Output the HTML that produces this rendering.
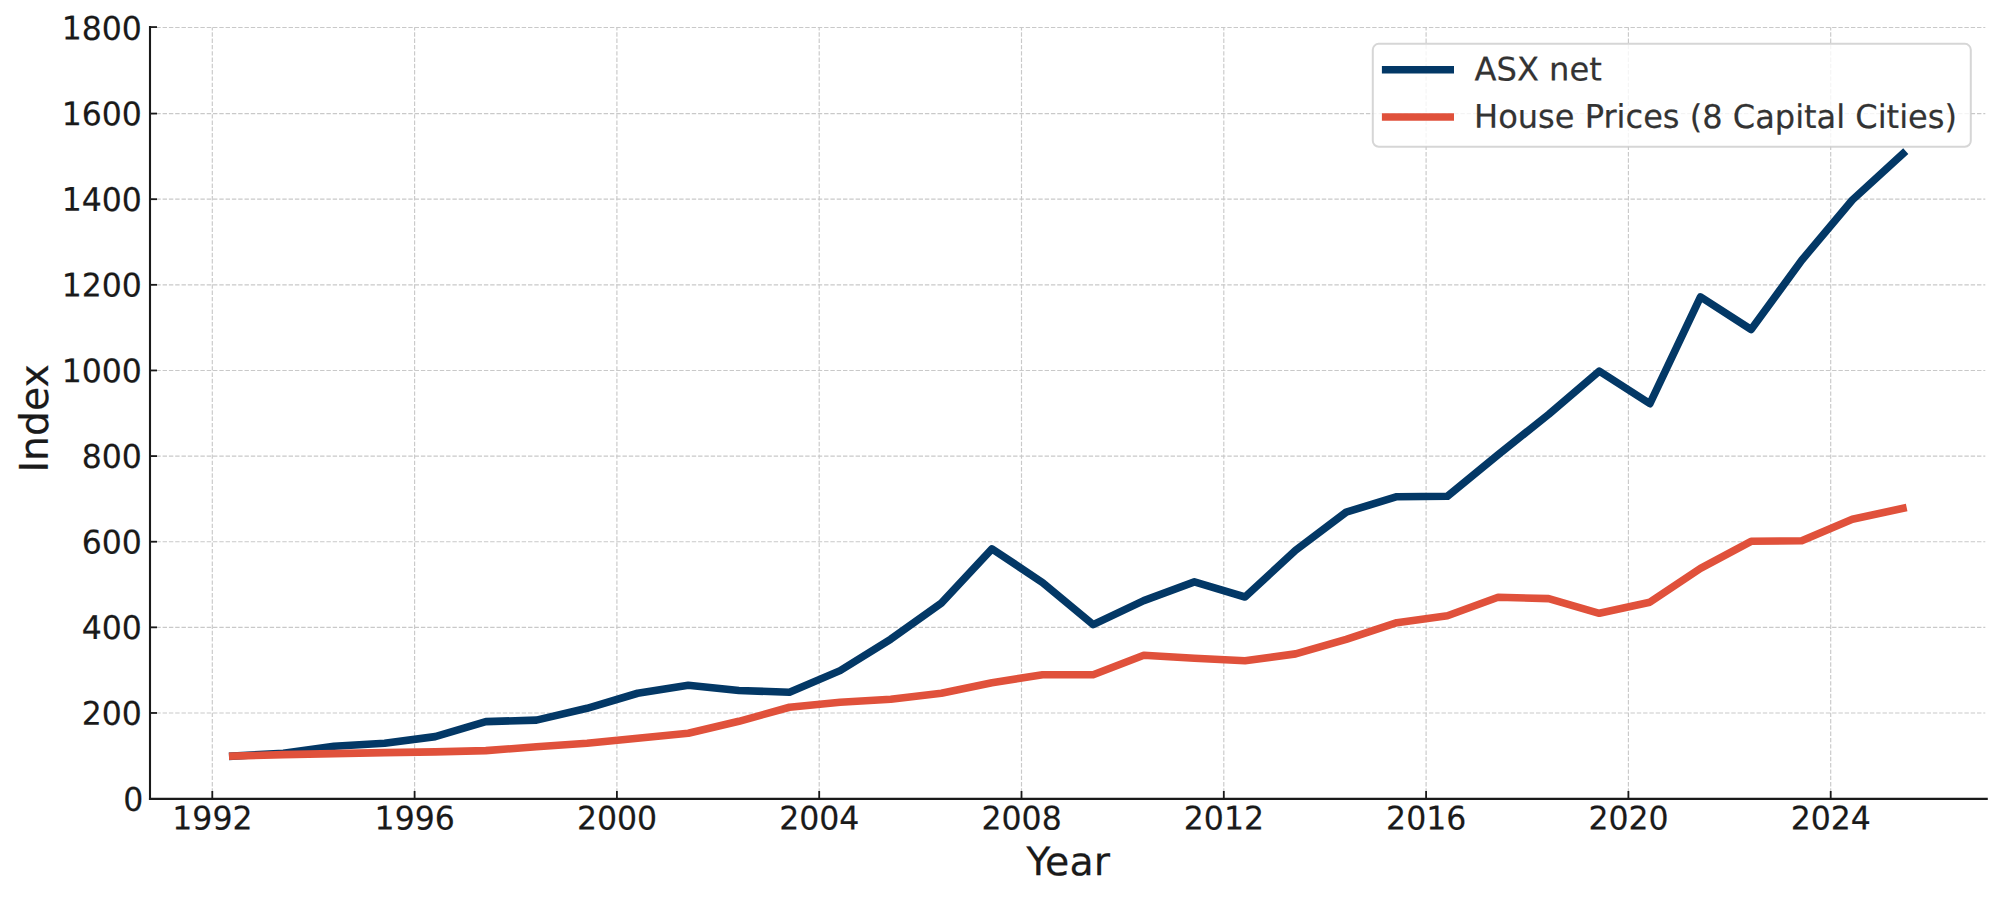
<!DOCTYPE html>
<html lang="en"><head><meta charset="utf-8"><title>ASX net vs House Prices</title>
<style>html,body{margin:0;padding:0;background:#fff}body{width:2000px;height:898px;overflow:hidden}svg{display:block}text{font-family:"DejaVu Sans","Liberation Sans",sans-serif}</style></head><body>
<svg width="2000" height="898" viewBox="0 0 2000 898">
<rect width="2000" height="898" fill="#ffffff"/>
<g stroke="#c9c9c9" stroke-width="1.15" stroke-dasharray="4.4 1.9" fill="none">
<line x1="212.30" y1="799.00" x2="212.30" y2="27.20"/>
<line x1="414.60" y1="799.00" x2="414.60" y2="27.20"/>
<line x1="616.90" y1="799.00" x2="616.90" y2="27.20"/>
<line x1="819.20" y1="799.00" x2="819.20" y2="27.20"/>
<line x1="1021.50" y1="799.00" x2="1021.50" y2="27.20"/>
<line x1="1223.80" y1="799.00" x2="1223.80" y2="27.20"/>
<line x1="1426.10" y1="799.00" x2="1426.10" y2="27.20"/>
<line x1="1628.40" y1="799.00" x2="1628.40" y2="27.20"/>
<line x1="1830.70" y1="799.00" x2="1830.70" y2="27.20"/>
<line x1="150.00" y1="712.97" x2="1985.30" y2="712.97"/>
<line x1="150.00" y1="627.34" x2="1985.30" y2="627.34"/>
<line x1="150.00" y1="541.71" x2="1985.30" y2="541.71"/>
<line x1="150.00" y1="456.08" x2="1985.30" y2="456.08"/>
<line x1="150.00" y1="370.45" x2="1985.30" y2="370.45"/>
<line x1="150.00" y1="284.82" x2="1985.30" y2="284.82"/>
<line x1="150.00" y1="199.19" x2="1985.30" y2="199.19"/>
<line x1="150.00" y1="113.56" x2="1985.30" y2="113.56"/>
<line x1="150.00" y1="27.47" x2="1985.30" y2="27.47"/>
</g>
<polyline points="232.76,756.12 283.37,753.25 333.98,746.26 384.60,743.26 435.21,736.61 485.82,721.61 536.43,720.10 587.04,708.31 637.66,693.26 688.27,685.25 738.88,690.43 789.49,692.23 840.10,670.62 890.72,639.15 941.33,603.05 991.94,548.81 1042.55,582.55 1093.16,624.66 1143.78,600.60 1194.39,581.91 1245.00,597.00 1295.61,550.31 1346.22,512.15 1396.84,496.71 1447.45,496.28 1498.06,454.69 1548.67,414.39 1599.28,371.08 1649.90,403.67 1700.51,296.90 1751.12,329.49 1801.73,260.24 1852.34,200.00 1902.96,153.69" fill="none" stroke="#033866" stroke-width="7.60" stroke-linejoin="round" stroke-linecap="square"/>
<polyline points="232.76,756.12 283.37,754.62 333.98,753.64 384.60,752.65 435.21,751.83 485.82,750.63 536.43,746.82 587.04,743.26 637.66,738.33 688.27,733.31 738.88,721.31 789.49,707.28 840.10,702.27 890.72,699.27 941.33,693.31 991.94,682.76 1042.55,674.74 1093.16,674.74 1143.78,655.27 1194.39,658.28 1245.00,660.68 1295.61,653.86 1346.22,639.32 1396.84,622.69 1447.45,615.70 1498.06,597.26 1548.67,598.63 1599.28,613.30 1649.90,602.19 1700.51,568.32 1751.12,541.30 1801.73,540.70 1852.34,519.22 1902.96,508.29" fill="none" stroke="#e0513b" stroke-width="7.60" stroke-linejoin="round" stroke-linecap="square"/>
<g stroke="#1a1a1a" stroke-width="2.1" fill="none">
<line x1="150.00" y1="26.1" x2="150.00" y2="799.9"/>
<line x1="148.95" y1="798.85" x2="1987.8" y2="798.85"/>
</g>
<g stroke="#1a1a1a" stroke-width="1.8" fill="none">
<line x1="212.30" y1="798.8" x2="212.30" y2="791.0"/>
<line x1="414.60" y1="798.8" x2="414.60" y2="791.0"/>
<line x1="616.90" y1="798.8" x2="616.90" y2="791.0"/>
<line x1="819.20" y1="798.8" x2="819.20" y2="791.0"/>
<line x1="1021.50" y1="798.8" x2="1021.50" y2="791.0"/>
<line x1="1223.80" y1="798.8" x2="1223.80" y2="791.0"/>
<line x1="1426.10" y1="798.8" x2="1426.10" y2="791.0"/>
<line x1="1628.40" y1="798.8" x2="1628.40" y2="791.0"/>
<line x1="1830.70" y1="798.8" x2="1830.70" y2="791.0"/>
<line x1="150.00" y1="712.97" x2="157.00" y2="712.97"/>
<line x1="150.00" y1="627.34" x2="157.00" y2="627.34"/>
<line x1="150.00" y1="541.71" x2="157.00" y2="541.71"/>
<line x1="150.00" y1="456.08" x2="157.00" y2="456.08"/>
<line x1="150.00" y1="370.45" x2="157.00" y2="370.45"/>
<line x1="150.00" y1="284.82" x2="157.00" y2="284.82"/>
<line x1="150.00" y1="199.19" x2="157.00" y2="199.19"/>
<line x1="150.00" y1="113.56" x2="157.00" y2="113.56"/>
<line x1="150.00" y1="27.07" x2="157.00" y2="27.07"/>
</g>
<g fill="#1a1a1a" stroke="#1a1a1a" stroke-width="0.2" font-size="32.15">
<text transform="translate(212.40,829.5) rotate(0.05) scale(0.980,1.010)" text-anchor="middle">1992</text>
<text transform="translate(414.70,829.5) rotate(0.05) scale(0.980,1.010)" text-anchor="middle">1996</text>
<text transform="translate(617.00,829.5) rotate(0.05) scale(0.980,1.010)" text-anchor="middle">2000</text>
<text transform="translate(819.30,829.5) rotate(0.05) scale(0.980,1.010)" text-anchor="middle">2004</text>
<text transform="translate(1021.60,829.5) rotate(0.05) scale(0.980,1.010)" text-anchor="middle">2008</text>
<text transform="translate(1223.90,829.5) rotate(0.05) scale(0.980,1.010)" text-anchor="middle">2012</text>
<text transform="translate(1426.20,829.5) rotate(0.05) scale(0.980,1.010)" text-anchor="middle">2016</text>
<text transform="translate(1628.50,829.5) rotate(0.05) scale(0.980,1.010)" text-anchor="middle">2020</text>
<text transform="translate(1830.80,829.5) rotate(0.05) scale(0.980,1.010)" text-anchor="middle">2024</text>
<text transform="translate(143.30,810.75) rotate(0.05) scale(0.980,1.010)" text-anchor="end">0</text>
<text transform="translate(141.90,724.72) rotate(0.05) scale(0.980,1.010)" text-anchor="end">200</text>
<text transform="translate(141.90,639.09) rotate(0.05) scale(0.980,1.010)" text-anchor="end">400</text>
<text transform="translate(141.90,553.46) rotate(0.05) scale(0.980,1.010)" text-anchor="end">600</text>
<text transform="translate(141.90,467.83) rotate(0.05) scale(0.980,1.010)" text-anchor="end">800</text>
<text transform="translate(141.90,382.20) rotate(0.05) scale(0.980,1.010)" text-anchor="end">1000</text>
<text transform="translate(141.90,296.57) rotate(0.05) scale(0.980,1.010)" text-anchor="end">1200</text>
<text transform="translate(141.90,210.94) rotate(0.05) scale(0.980,1.010)" text-anchor="end">1400</text>
<text transform="translate(141.90,125.31) rotate(0.05) scale(0.980,1.010)" text-anchor="end">1600</text>
<text transform="translate(141.90,39.68) rotate(0.05) scale(0.980,1.010)" text-anchor="end">1800</text>
</g>
<text transform="translate(1068.05,875.3) rotate(0.05)" text-anchor="middle" font-size="39.50" fill="#1a1a1a" stroke="#1a1a1a" stroke-width="0.2">Year</text>
<text transform="translate(47.9,418.4) rotate(-89.95) scale(0.995,1)" text-anchor="middle" font-size="39.50" fill="#1a1a1a" stroke="#1a1a1a" stroke-width="0.2">Index</text>
<rect x="1372.8" y="43.85" width="598.0" height="102.9" rx="6" ry="6" fill="#ffffff" fill-opacity="0.8" stroke="#cccccc" stroke-opacity="0.8" stroke-width="2"/>
<line x1="1381.9" y1="69.8" x2="1454" y2="69.8" stroke="#033866" stroke-width="7.60"/>
<line x1="1381.9" y1="117" x2="1454" y2="117" stroke="#e0513b" stroke-width="7.60"/>
<g fill="#333333" stroke="#333333" stroke-width="0.2" font-size="32.15">
<text transform="translate(1474.5,80.5) rotate(0.05) scale(1,1.010)">ASX net</text>
<text transform="translate(1474.1,127.7) rotate(0.05) scale(0.997,1.010)">House Prices (8 Capital Cities)</text>
</g>
</svg></body></html>
